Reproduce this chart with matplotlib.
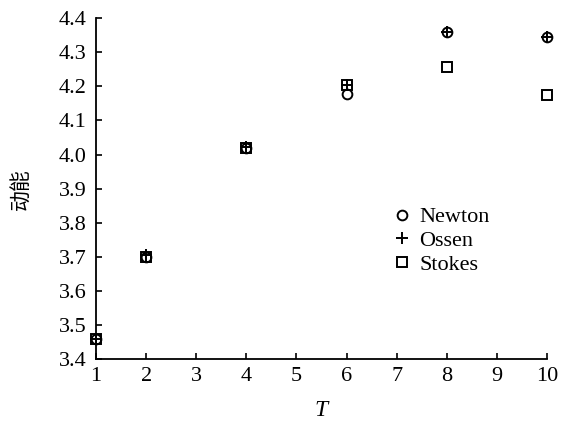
import matplotlib
matplotlib.use("Agg")
import matplotlib.pyplot as plt

T = [1, 2, 4, 6, 8, 10]
newton = [3.46, 3.70, 4.02, 4.178, 4.360, 4.345]
ossen = [3.46, 3.705, 4.022, 4.205, 4.360, 4.345]
stokes = [3.46, 3.70, 4.02, 4.205, 4.258, 4.176]
xticks = [1, 2, 3, 4, 5, 6, 7, 8, 9, 10]
yticks = [3.4, 3.5, 3.6, 3.7, 3.8, 3.9, 4.0, 4.1, 4.2, 4.3, 4.4]

plt.rcParams['font.family'] = ['Liberation Serif', 'Noto Sans CJK SC']
fig = plt.figure(figsize=(5.62, 4.22), dpi=100)
ax = fig.add_axes([0.171, 0.149, 0.802, 0.808])

kw = dict(linestyle='none', clip_on=False, zorder=3)
ax.plot(T, newton, marker='o', markersize=7, markerfacecolor='none',
        markeredgecolor='black', markeredgewidth=1.4, label='Newton', **kw)
ax.plot(T, ossen, marker='+', markersize=8, color='black',
        markeredgewidth=1.4, label='Ossen', **kw)
ax.plot(T, stokes, marker='s', markersize=7, markerfacecolor='none',
        markeredgecolor='black', markeredgewidth=1.4, label='Stokes', **kw)

ax.set_xlim(1, 10)
ax.set_ylim(3.4, 4.4)
ax.set_xticks(xticks)
ax.set_yticks(yticks)
ax.set_yticklabels([f"{v:.1f}" for v in yticks])
ax.spines['top'].set_visible(False)
ax.spines['right'].set_visible(False)
for s in ['left', 'bottom']:
    ax.spines[s].set_linewidth(1.3)
ax.tick_params(direction='in', length=4, width=1.2, labelsize=16)
ax.tick_params(axis='y', pad=7)
ax.tick_params(axis='x', pad=6)
ax.set_xlabel('T', fontsize=17, fontstyle='italic', labelpad=10)
ax.set_ylabel('动能', fontsize=15, family=['Noto Sans CJK SC'], labelpad=19)

ax.legend(loc='upper left', bbox_to_anchor=(0.695, 0.51), bbox_transform=fig.transFigure,
          frameon=False, fontsize=16, handletextpad=0.3, labelspacing=0.15,
          handlelength=1.0, borderaxespad=0, borderpad=0)

fig.savefig('out.png', dpi=100)
